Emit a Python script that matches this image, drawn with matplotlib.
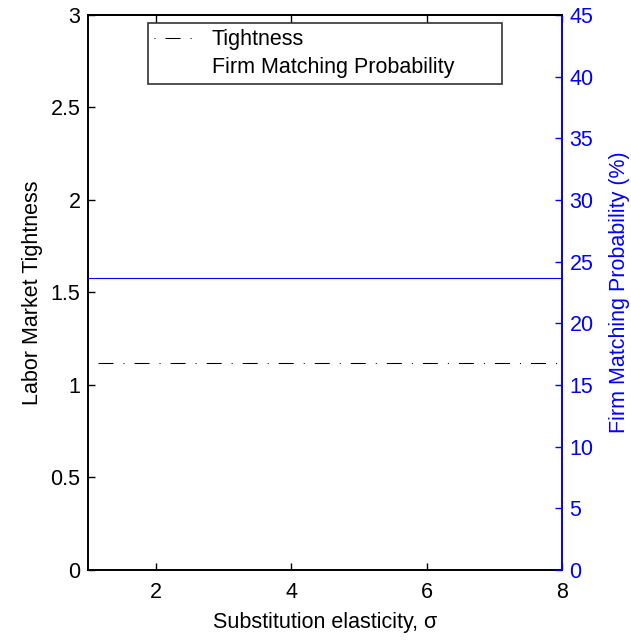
import matplotlib
matplotlib.use("Agg")
import matplotlib.pyplot as plt
from matplotlib.lines import Line2D

plt.rcParams['font.family'] = ['Liberation Sans', 'DejaVu Sans']

sigma = [1, 2, 3, 4, 5, 6, 7, 8]
tightness = [1.12, 1.12, 1.12, 1.12, 1.12, 1.12, 1.12, 1.12]
firm_prob = [23.65, 23.65, 23.65, 23.65, 23.65, 23.65, 23.65, 23.65]

fig = plt.figure(figsize=(6.31, 6.4), dpi=100)
ax = fig.add_axes([0.1395, 0.1094, 0.7511, 0.8672])
ax2 = ax.twinx()

lw = 0.75
dd = (25, (14.4, 9.6, 1.0, 9.6))
ax.plot(sigma, tightness, color='black', linestyle=dd, linewidth=lw)
ax2.plot(sigma, firm_prob, color='#0000ff', linewidth=0.8)

ax.set_xlim(1, 8)
ax.set_ylim(0, 3)
ax2.set_ylim(0, 45)
ax.set_xticks([2, 4, 6, 8])
ax.set_yticks([0, 0.5, 1, 1.5, 2, 2.5, 3])
ax.set_yticklabels(['0', '0.5', '1', '1.5', '2', '2.5', '3'])
ax2.set_yticks(range(0, 50, 5))

fs = 15.5
ax.tick_params(direction='in', length=5, labelsize=fs, width=1.0, pad=5.5)
ax.tick_params(axis='x', pad=9, top=True, labeltop=False)
ax2.tick_params(direction='in', length=5, labelsize=fs, colors='#0000ff', width=1.0, pad=5.5)
ax.set_xlabel('Substitution elasticity, σ', fontsize=fs, labelpad=6)
ax.set_ylabel('Labor Market Tightness', fontsize=fs, labelpad=5)
ax2.set_ylabel('Firm Matching Probability (%)', fontsize=fs, color='#0000ff', labelpad=11)

for s in ['left', 'bottom', 'top']:
    ax.spines[s].set_linewidth(1.4)
ax2.spines['right'].set_color('#0000ff')
ax2.spines['right'].set_linewidth(1.4)
ax.spines['right'].set_visible(False)
ax2.spines['left'].set_visible(False)
ax2.spines['top'].set_linewidth(1.4)
ax2.spines['bottom'].set_visible(False)

handles = [Line2D([], [], color='black', linestyle=(0, (1.0, 9.6, 14.4, 9.6)), linewidth=lw),
           Line2D([], [], color='none')]
leg = ax.legend(handles, ['Tightness', 'Firm Matching Probability'], loc='upper left',
                bbox_to_anchor=(0.1266, 0.875, 0.747, 0.1106), mode='expand',
                borderaxespad=0, fontsize=fs,
                frameon=True, fancybox=False, edgecolor='black', handlelength=1.9,
                handletextpad=0.75, borderpad=0.3, labelspacing=0.3)
leg.get_frame().set_linewidth(1.2)

fig.savefig('out.png', dpi=100)
